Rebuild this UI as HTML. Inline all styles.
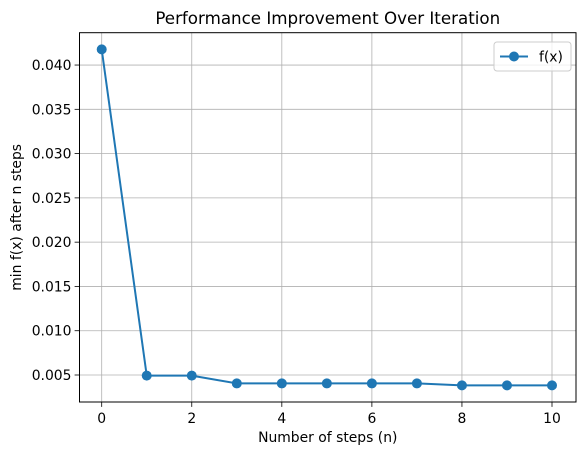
<!DOCTYPE html>
<html><head><meta charset="utf-8"><style>
body{margin:0;background:#fff}
svg{display:block;font-family:"DejaVu Sans","Liberation Sans",sans-serif}
</style></head><body>
<svg id="c" width="584" height="455"></svg>
<script>
const xs=[0,1,2,3,4,5,6,7,8,9,10];
const ys=[0.04177,0.00493,0.00493,0.00405,0.00405,0.00405,0.00405,0.00405,0.00383,0.00383,0.00383];
const xTicks=[0,2,4,6,8,10];
const yTicks=[0.005,0.010,0.015,0.020,0.025,0.030,0.035,0.040];
const L=79.5,R=576,T=32.7,B=402;
const X=v=>101.7+(552-101.7)*v/10;
const Y=v=>375-(v-0.005)/0.005*44.28;
const s=document.getElementById('c');const NS='http://www.w3.org/2000/svg';
function el(t,a,txt){const e=document.createElementNS(NS,t);for(const k in a)e.setAttribute(k,a[k]);if(txt!=null)e.textContent=txt;s.appendChild(e);return e;}
xTicks.forEach(v=>{
const g=el('line',{x1:X(v),x2:X(v),y1:T,y2:B,stroke:'#b0b0b0','stroke-width':0.8});


const t=el('line',{x1:X(v),x2:X(v),y1:B,y2:B+4.9,stroke:'#000','stroke-width':0.8});


const l=el('text',{x:X(v),y:B+21,'font-size':13.9,'text-anchor':'middle'},String(v));


});
yTicks.forEach(v=>{
const g=el('line',{x1:L,x2:R,y1:Y(v),y2:Y(v),stroke:'#b0b0b0','stroke-width':0.8});


const t=el('line',{x1:L-4.9,x2:L,y1:Y(v),y2:Y(v),stroke:'#000','stroke-width':0.8});


const l=el('text',{x:L-8,y:Y(v)+5,'font-size':13.9,'text-anchor':'end'},v.toFixed(3));


});
const p=el('polyline',{points:xs.map((x,i)=>X(x)+','+Y(ys[i])).join(' '),fill:'none',stroke:'#1f77b4','stroke-width':2});


xs.forEach((x,i)=>{const c=el('circle',{cx:X(x),cy:Y(ys[i]),r:5,fill:'#1f77b4'});

});
const fr=el('rect',{x:L,y:T,width:R-L,height:B-T,fill:'none',stroke:'#000','stroke-width':1});


const ti=el('text',{x:(L+R)/2,y:24,'font-size':16.7,'text-anchor':'middle'},'Performance Improvement Over Iteration');


const xl=el('text',{x:(L+R)/2,y:442,'font-size':13.9,'text-anchor':'middle'},'Number of steps (n)');


const yl=el('text',{x:21,y:(T+B)/2,'font-size':13.9,'text-anchor':'middle',transform:'rotate(-90 21 '+(T+B)/2+')'},'min f(x) after n steps');


const lg=el('rect',{x:494,y:42,width:77,height:29,rx:3,fill:'#fff','fill-opacity':0.8,stroke:'#ccc','stroke-width':1});


const ll=el('line',{x1:500,x2:528,y1:56.5,y2:56.5,stroke:'#1f77b4','stroke-width':2});


const lc=el('circle',{cx:514,cy:56.5,r:5,fill:'#1f77b4'});


const lt=el('text',{x:539,y:61.5,'font-size':13.9},'f(x)');


</script>
</body></html>
